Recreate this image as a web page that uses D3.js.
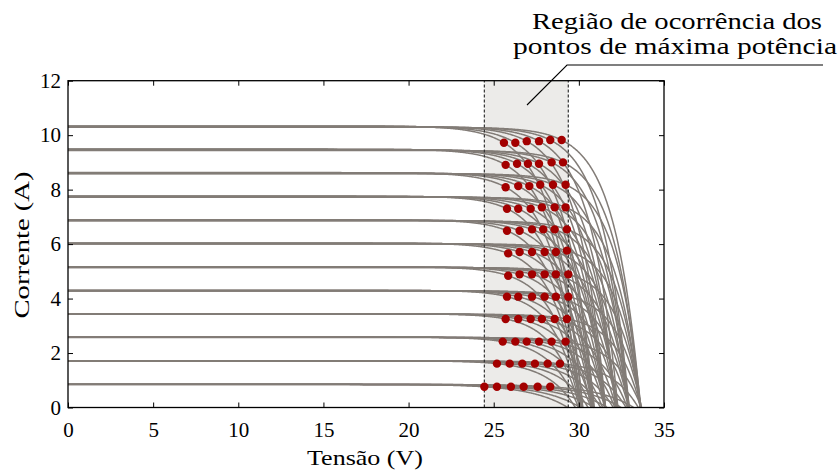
<!DOCTYPE html>
<html><head><meta charset="utf-8">
<script src="https://cdn.jsdelivr.net/npm/d3@7"></script>
<style>
body{margin:0;background:#fff}
svg{display:block}
</style>
</head><body>
<svg id="c" width="840" height="471" font-family="'Liberation Serif', 'Times New Roman', Times, serif"></svg>
<script>
// ---- data ----
// short-circuit current of each irradiance level (bottom → top)
const iscLevels = [0.85, 1.71, 2.58, 3.43, 4.29, 5.15, 6.02, 6.87, 7.74, 8.60, 9.46, 10.31];
// small temperature effect on Isc (hot → cold)
const iscTempFactor = [1.003, 1.002, 1.001, 1.000, 0.999, 0.998];
// maximum power point voltage, per level (rows) and temperature (hot → cold)
const vmp = [
  [24.45, 25.19, 26.01, 26.76, 27.58, 28.32],
  [25.19, 25.94, 26.68, 27.42, 28.17, 28.89],
  [25.53, 26.27, 26.94, 27.66, 28.40, 29.22],
  [25.70, 26.44, 27.17, 27.83, 28.58, 29.30],
  [25.78, 26.44, 27.25, 27.99, 28.65, 29.38],
  [25.85, 26.52, 27.25, 27.99, 28.65, 29.38],
  [25.85, 26.52, 27.25, 27.99, 28.65, 29.30],
  [25.78, 26.52, 27.25, 27.91, 28.58, 29.30],
  [25.78, 26.44, 27.17, 27.83, 28.58, 29.22],
  [25.70, 26.44, 27.09, 27.73, 28.48, 29.22],
  [25.70, 26.37, 27.01, 27.66, 28.40, 29.07],
  [25.60, 26.27, 26.94, 27.66, 28.32, 28.99]
];
// maximum power point current
const imp = [
  [0.76, 0.76, 0.76, 0.76, 0.76, 0.76],
  [1.61, 1.61, 1.61, 1.61, 1.61, 1.61],
  [2.42, 2.42, 2.42, 2.42, 2.42, 2.42],
  [3.25, 3.25, 3.25, 3.25, 3.25, 3.25],
  [4.07, 4.07, 4.07, 4.07, 4.07, 4.07],
  [4.84, 4.89, 4.89, 4.89, 4.89, 4.89],
  [5.66, 5.71, 5.71, 5.71, 5.71, 5.76],
  [6.49, 6.49, 6.54, 6.54, 6.54, 6.54],
  [7.30, 7.30, 7.30, 7.35, 7.35, 7.35],
  [8.09, 8.13, 8.13, 8.18, 8.18, 8.18],
  [8.91, 8.95, 8.95, 8.95, 9.00, 9.00],
  [9.72, 9.72, 9.78, 9.78, 9.82, 9.82]
];
// open-circuit voltage
const voc = [
  [29.35, 30.09, 30.91, 31.66, 32.48, 33.22],
  [29.79, 30.54, 31.28, 32.02, 32.77, 33.49],
  [29.98, 30.72, 31.39, 32.11, 32.85, 33.67],
  [30.05, 30.79, 31.52, 32.18, 32.93, 33.65],
  [30.08, 30.74, 31.55, 32.29, 32.95, 33.68],
  [30.13, 30.80, 31.53, 32.27, 32.93, 33.66],
  [30.15, 30.82, 31.55, 32.29, 32.95, 33.60],
  [30.10, 30.84, 31.57, 32.23, 32.90, 33.62],
  [30.16, 30.82, 31.55, 32.21, 32.96, 33.60],
  [30.12, 30.86, 31.51, 32.15, 32.90, 33.64],
  [30.22, 30.89, 31.53, 32.18, 32.92, 33.59],
  [30.23, 30.90, 31.57, 32.29, 32.95, 33.62]
];
const xTicks = [0, 5, 10, 15, 20, 25, 30, 35];
const yTicks = [0, 2, 4, 6, 8, 10, 12];
const xLabel = "Tensão (V)";
const yLabel = "Corrente (A)";
const noteLines = ["Região de ocorrência dos", "pontos de máxima potência"];

// ---- drawing ----
const FONT = "'Liberation Serif', 'Times New Roman', Times, serif";
const svg = d3.select("#c");
const x = d3.scaleLinear().domain([0, 35]).range([68, 664]);
const y = d3.scaleLinear().domain([0, 12]).range([407.5, 80.7]);

// build curves & points
const curves = [], points = [];
iscLevels.forEach((iscL, li) => {
  iscTempFactor.forEach((f, ti) => {
    const isc = iscL * f, vm = vmp[li][ti], im = imp[li][ti], vo = voc[li][ti];
    const r = 1 - im / isc;
    const a = (vm / vo - 1) / Math.log(r) * vo;
    const c1 = r * Math.exp(-vm / a);
    const I = V => Math.max(0, isc * (1 - c1 * (Math.exp(V / a) - 1)));
    const vs = d3.range(0, vo, 0.04).concat([vo]);
    curves.push(vs.map(v => [v, I(v)]));
    points.push([vm, im]);
  });
});

const vExt = d3.extent(points, d => d[0]);

// shaded MPP region
svg.append("rect")
  .attr("x", x(vExt[0])).attr("y", y(12))
  .attr("width", x(vExt[1]) - x(vExt[0])).attr("height", y(0) - y(12))
  .attr("fill", "#ecebe9");

const line = d3.line().x(d => x(d[0])).y(d => y(d[1]));
svg.append("g").selectAll("path").data(curves).join("path")
  .attr("d", line).attr("fill", "none")
  .attr("stroke", "#827c77").attr("stroke-width", 1.5);

// dashed borders
svg.append("g").selectAll("line").data(vExt).join("line")
  .attr("x1", d => x(d)).attr("x2", d => x(d))
  .attr("y1", y(0)).attr("y2", y(12))
  .attr("stroke", "#333").attr("stroke-width", 1.2)
  .attr("stroke-dasharray", "3,2");

// MPP dots
svg.append("g").selectAll("circle").data(points).join("circle")
  .attr("cx", d => x(d[0])).attr("cy", d => y(d[1])).attr("r", 4.2)
  .attr("fill", "#a30000");

// axes (ticks inward on all sides)
const gB = svg.append("g").attr("transform", `translate(0,${y(0)})`)
  .call(d3.axisBottom(x).tickValues(xTicks).tickFormat(d3.format("d")).tickSizeInner(-5).tickSizeOuter(0).tickPadding(15));
const gT = svg.append("g").attr("transform", `translate(0,${y(12)})`)
  .call(d3.axisTop(x).tickValues(xTicks).tickFormat("").tickSizeInner(-5).tickSizeOuter(0));
const gL = svg.append("g").attr("transform", `translate(${x(0)},0)`)
  .call(d3.axisLeft(y).tickValues(yTicks).tickFormat(d3.format("d")).tickSizeInner(-5).tickSizeOuter(0).tickPadding(7));
const gR = svg.append("g").attr("transform", `translate(${x(35)},0)`)
  .call(d3.axisRight(y).tickValues(yTicks).tickFormat("").tickSizeInner(-5).tickSizeOuter(0));
[gB, gT, gL, gR].forEach(g => {
  g.attr("font-family", FONT).attr("font-size", 21);
  g.select(".domain").remove();
  g.selectAll(".tick line").attr("stroke", "#000").attr("stroke-width", 1);
  g.selectAll(".tick text").attr("fill", "#000");
});

// frame
svg.append("rect")
  .attr("x", x(0)).attr("y", y(12))
  .attr("width", x(35) - x(0)).attr("height", y(0) - y(12))
  .attr("fill", "none").attr("stroke", "#000").attr("stroke-width", 1.3);

// axis titles
svg.append("text").attr("x", 365).attr("y", 465)
  .attr("text-anchor", "middle").attr("font-family", FONT).attr("font-size", 22)
  .attr("textLength", 116).attr("lengthAdjust", "spacingAndGlyphs")
  .text(xLabel);
svg.append("text").attr("transform", "translate(29,245) rotate(-90)")
  .attr("text-anchor", "middle").attr("font-family", FONT).attr("font-size", 22)
  .attr("textLength", 147).attr("lengthAdjust", "spacingAndGlyphs")
  .text(yLabel);

// annotation
svg.append("text").attr("x", 677).attr("y", 29)
  .attr("text-anchor", "middle").attr("font-family", FONT).attr("font-size", 23)
  .attr("textLength", 290).attr("lengthAdjust", "spacingAndGlyphs")
  .text(noteLines[0]);
svg.append("text").attr("x", 675).attr("y", 54)
  .attr("text-anchor", "middle").attr("font-family", FONT).attr("font-size", 23)
  .attr("textLength", 324).attr("lengthAdjust", "spacingAndGlyphs")
  .text(noteLines[1]);
svg.append("polyline")
  .attr("points", "527,105 567,65 823,65")
  .attr("fill", "none").attr("stroke", "#000").attr("stroke-width", 1.1);
</script>
</body></html>
